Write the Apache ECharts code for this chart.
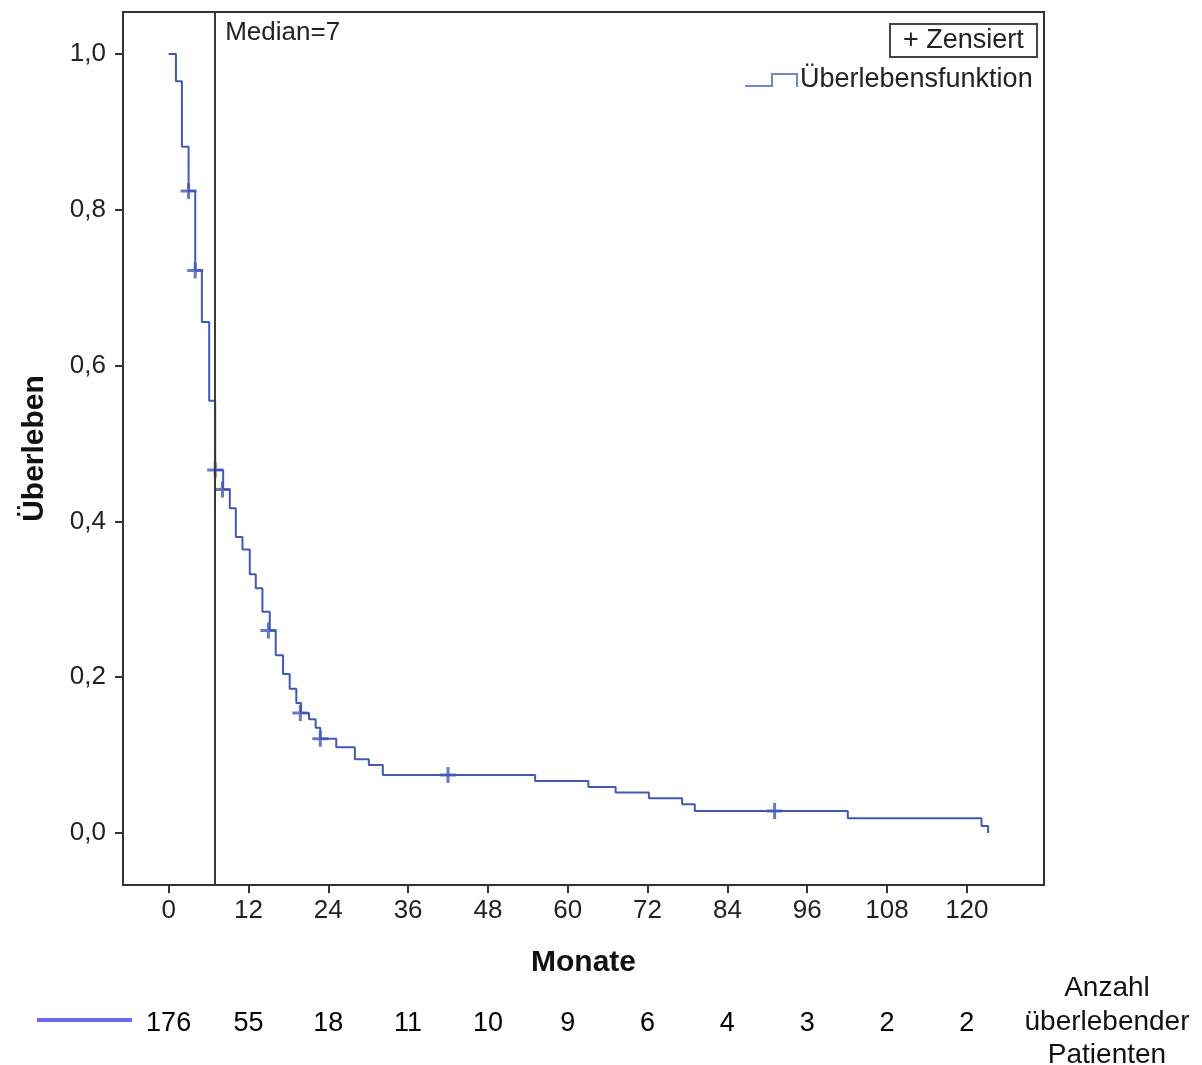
<!DOCTYPE html>
<html>
<head>
<meta charset="utf-8">
<script src="https://cdn.jsdelivr.net/npm/echarts@6/dist/echarts.min.js"></script>
<style>html,body{margin:0;padding:0;background:#fff;}#c{width:1202px;height:1065px;}</style>
</head>
<body>
<div id="c"></div>
<script>
// Kaplan-Meier step points (month, survival after that time)
const times = [0, 1.1, 2.0, 3.0, 4.0, 5.0, 6.1, 7.0, 8.2, 9.2, 10.1, 11.1, 12.2, 13.1, 14.1, 15.2, 16.1, 17.2, 18.2, 19.2, 19.9, 21.1, 22.1, 22.8, 25.2, 28.0, 30.1, 32.2, 55.1, 63.1, 67.2, 72.2, 77.2, 79.1, 102.1, 122.2, 123.2];
const surv  = [1.0, 0.965, 0.881, 0.824, 0.722, 0.656, 0.555, 0.466, 0.441, 0.417, 0.380, 0.364, 0.332, 0.314, 0.284, 0.260, 0.228, 0.204, 0.185, 0.167, 0.154, 0.146, 0.135, 0.121, 0.110, 0.0945, 0.0874, 0.0745, 0.0668, 0.0591, 0.0518, 0.0446, 0.037, 0.0283, 0.0189, 0.009, 0.0];
// Censored observations
const censTimes = [3.0, 4.0, 7.0, 8.1, 15.0, 19.8, 22.8, 42.0, 91.1];
const censSurv  = [0.824, 0.722, 0.466, 0.441, 0.260, 0.154, 0.121, 0.0745, 0.0283];
// Axis ticks
const xTicks = [0, 12, 24, 36, 48, 60, 72, 84, 96, 108, 120];
const yTicks = [0, 0.2, 0.4, 0.6, 0.8, 1.0];
// Numbers at risk at each x tick
const riskCounts = [176, 55, 18, 11, 10, 9, 6, 4, 3, 2, 2];
const medianValue = 7;

const FONT = "'Liberation Sans', Arial, sans-serif";
const curveColor = '#4258b3';

const chart = echarts.init(document.getElementById('c'), null, {renderer: 'canvas'});

const xMin = -6.86, xMax = 131.6;
const option = {
  animation: false,
  backgroundColor: '#fff',
  grid: {left: 123, right: 158, top: 12, bottom: 180, show: true, borderColor: '#333', borderWidth: 2, backgroundColor: 'transparent'},
  xAxis: [{
    type: 'value', min: xMin, max: xMax, position: 'bottom',
    splitLine: {show: false},
    axisLine: {show: true, onZero: false, lineStyle: {color: '#333', width: 2}},
    axisTick: {show: true, length: 8, inside: false, customValues: xTicks, lineStyle: {color: '#333', width: 2}},
    axisLabel: {customValues: xTicks, margin: 13, fontFamily: FONT, fontSize: 26, color: '#222', formatter: v => String(v)},
    name: 'Monate', nameLocation: 'middle', nameGap: 63,
    nameTextStyle: {fontFamily: FONT, fontSize: 30, fontWeight: 'bold', color: '#111'}
  }, {
    type: 'value', min: xMin, max: xMax, position: 'bottom', offset: 117,
    splitLine: {show: false}, axisLine: {show: false}, axisTick: {show: false},
    axisLabel: {customValues: xTicks, margin: 8, fontFamily: FONT, fontSize: 27, color: '#000',
      formatter: v => { const i = xTicks.indexOf(Math.round(v)); return i >= 0 ? String(riskCounts[i]) : ''; }}
  }],
  yAxis: {
    type: 'value', min: -0.0668, max: 1.0539,
    splitLine: {show: false},
    axisLine: {show: true, onZero: false, lineStyle: {color: '#333', width: 2}},
    axisTick: {show: true, length: 8, customValues: yTicks, lineStyle: {color: '#333', width: 2}},
    axisLabel: {customValues: yTicks, margin: 17, fontFamily: FONT, fontSize: 26, color: '#222',
      formatter: v => v.toFixed(1).replace('.', ',')},
    name: 'Überleben', nameLocation: 'middle', nameGap: 73, nameRotate: 90,
    nameTextStyle: {fontFamily: FONT, fontSize: 30, fontWeight: 'bold', color: '#111'}
  },
  series: [{
    type: 'line', step: 'end', xAxisIndex: 0,
    data: times.map((t, i) => [t, surv[i]]),
    showSymbol: false, symbol: 'none',
    lineStyle: {color: curveColor, width: 2},
    markLine: {
      silent: true, symbol: ['none', 'none'],
      lineStyle: {color: '#3a3a3a', width: 2, type: 'solid'},
      label: {show: false},
      data: [{xAxis: medianValue}]
    },
    z: 3
  }, {
    type: 'scatter', xAxisIndex: 0,
    data: censTimes.map((t, i) => [t, censSurv[i]]),
    symbol: 'path://M6.5,0h3v16h-3z M0,6.5h16v3h-16z', symbolSize: 16,
    itemStyle: {color: curveColor},
    z: 4
  }]
};
chart.setOption(option);

const mx = chart.convertToPixel({xAxisIndex: 0}, medianValue);
chart.setOption({
  graphic: [
    {type: 'text', x: mx + 10, y: 20, style: {text: 'Median=' + medianValue, font: "26px " + FONT, fill: '#222'}},
    {type: 'rect', shape: {x: 890, y: 24, width: 147, height: 33}, style: {fill: '#fff', stroke: '#444', lineWidth: 2}},
    {type: 'text', x: 903, y: 27, style: {text: '+ Zensiert', font: "27px " + FONT, fill: '#222'}},
    {type: 'polyline', shape: {points: [[745, 86], [772, 86], [772, 74], [797, 74], [797, 87]]}, style: {stroke: '#7584cf', lineWidth: 2, fill: null}},
    {type: 'text', x: 800, y: 66, style: {text: 'Überlebensfunktion', font: "27px " + FONT, fill: '#222'}},
    {type: 'line', shape: {x1: 37, y1: 1020, x2: 132, y2: 1020}, style: {stroke: '#6a6af2', lineWidth: 4}},
    {type: 'text', x: 1107, y: 972, style: {text: 'Anzahl\nüberlebender\nPatienten', font: "28px " + FONT, fill: '#111', align: 'center', lineHeight: 33.5}}
  ]
});
</script>
</body>
</html>
